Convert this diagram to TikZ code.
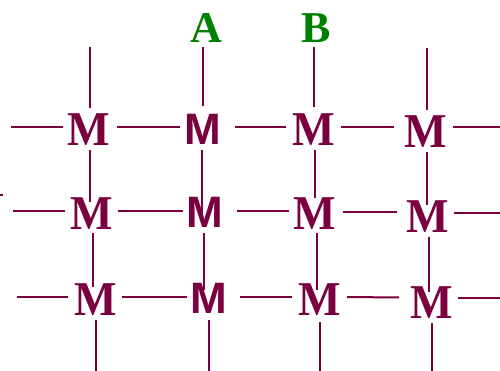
\documentclass[tikz,border=0pt]{standalone}
\usepackage{fontspec}
\setmainfont{Liberation Serif}
\newfontfamily\grotesk{Liberation Sans}
\usetikzlibrary{calc}
\definecolor{wine}{RGB}{122,0,64}
\definecolor{leaf}{RGB}{0,128,0}
\newcommand{\tallM}{\scalebox{1}[1.08]{M}}
\tikzset{
  cell/.style={inner sep=0pt, text=wine, font=\fontsize{45}{45}\selectfont\bfseries},
  sanscell/.style={inner sep=0pt, text=wine, font=\fontsize{44}{44}\selectfont\grotesk\bfseries},
  tag/.style={inner sep=0pt, text=leaf, font=\fontsize{44}{44}\selectfont\bfseries},
  wire/.style={draw=wine, line width=2pt},
}
\begin{document}
\begin{tikzpicture}[x=1pt,y=-1pt]
\useasboundingbox (0,0) rectangle (500,371);

% lattice sites
\node[cell]     (m11) at (89,129.5)  {\tallM};
\node[sanscell] (m12) at (203,129.5) {M};
\node[cell]     (m13) at (313.5,130) {\tallM};
\node[cell]     (m14) at (425.5,131.5) {\tallM};
\node[cell]     (m21) at (91.5,213.5) {\tallM};
\node[sanscell] (m22) at (205,212.5) {M};
\node[cell]     (m23) at (315,213.5) {\tallM};
\node[cell]     (m24) at (427.5,216.5) {\tallM};
\node[cell]     (m31) at (95.5,300)  {\tallM};
\node[sanscell] (m32) at (209,298.5) {M};
\node[cell]     (m33) at (319.5,300) {\tallM};
\node[cell]     (m34) at (431.5,302.5) {\tallM};

% column labels
\node[tag] (A) at (206,27.5) {A};
\node[tag] (B) at (316,28) {B};

% open bonds at the top
\draw[wire] ($(m11)+(1,-21.5)$) -- ($(m11)+(1,-82.5)$);
\draw[wire] ($(m12)+(0,-23.5)$) -- ($(m12)+(0,-82.5)$);
\draw[wire] ($(m13)+(0.5,-23)$) -- ($(m13)+(0.5,-83)$);
\draw[wire] ($(m14)+(1.5,-21.5)$) -- ($(m14)+(1.5,-83.5)$);

% row 1 bonds
\draw[wire] ($(m11)+(-26,-2.5)$) -- ($(m11)+(-78,-2.5)$);
\draw[wire] ($(m11)+(28,-2.5)$) -- ($(m12)+(-23,-2.5)$);
\draw[wire] ($(m12)+(32,-2.5)$) -- ($(m13)+(-27.5,-3)$);
\draw[wire] ($(m13)+(27.5,-3)$) -- ($(m14)+(-31.5,-4.5)$);
\draw[wire] ($(m14)+(27.5,-4.5)$) -- ($(m14)+(74.5,-4.5)$);

% bonds between rows 1 and 2
\draw[wire] ($(m11)+(1,20.5)$) -- ($(m21)+(-1.5,-11.5)$);
\draw[wire] ($(m12)+(-1,20.5)$) -- ($(m22)+(-3,9.5)$);
\draw[wire] ($(m13)+(1.5,20)$) -- ($(m23)+(0,-15.5)$);
\draw[wire] ($(m14)+(1.5,20.5)$) -- ($(m24)+(-0.5,-11.5)$);

% row 2 bonds
\draw[wire] ($(m21)+(-26.5,-2.5)$) -- ($(m21)+(-78.5,-2.5)$);
\draw[wire] ($(m21)+(26.5,-2.5)$) -- ($(m22)+(-22,-1.5)$);
\draw[wire] ($(m22)+(32,-1.5)$) -- ($(m23)+(-26,-2.5)$);
\draw[wire] ($(m23)+(28,-1.5)$) -- ($(m24)+(-30.5,-4.5)$);
\draw[wire] ($(m24)+(26.5,-3.5)$) -- ($(m24)+(72.5,-3.5)$);

% bonds between rows 2 and 3
\draw[wire] ($(m21)+(1.5,19.5)$) -- ($(m31)+(-2.5,-13)$);
\draw[wire] ($(m22)+(-1,20.5)$) -- ($(m32)+(-5,-8.5)$);
\draw[wire] ($(m23)+(2,19.5)$) -- ($(m33)+(-2.5,-10)$);
\draw[wire] ($(m24)+(1.5,20.5)$) -- ($(m34)+(-2.5,-10.5)$);

% row 3 bonds
\draw[wire] ($(m31)+(-27.5,-3)$) -- ($(m31)+(-78.5,-3)$);
\draw[wire] ($(m31)+(26.5,-3)$) -- ($(m32)+(-22,-1.5)$);
\draw[wire] ($(m32)+(31,-1.5)$) -- ($(m33)+(-27.5,-3)$);
\draw[wire] ($(m33)+(27.5,-3)$) -- ($(m34)+(-32.5,-5)$);
\draw[wire] ($(m34)+(26.5,-4.5)$) -- ($(m34)+(68.5,-4.5)$);

% open bonds at the bottom
\draw[wire] ($(m31)+(0.5,20)$) -- ($(m31)+(0.5,71)$);
\draw[wire] ($(m32)+(0,21.5)$) -- ($(m32)+(0,72.5)$);
\draw[wire] ($(m33)+(0.5,22)$) -- ($(m33)+(0.5,71)$);
\draw[wire] ($(m34)+(0.5,20.5)$) -- ($(m34)+(0.5,68.5)$);

% stray bond fragment at the left edge
\coordinate (e1) at (0,195);
\coordinate (e2) at (3,195);
\draw[wire] (e1) -- (e2);
\end{tikzpicture}
\end{document}
